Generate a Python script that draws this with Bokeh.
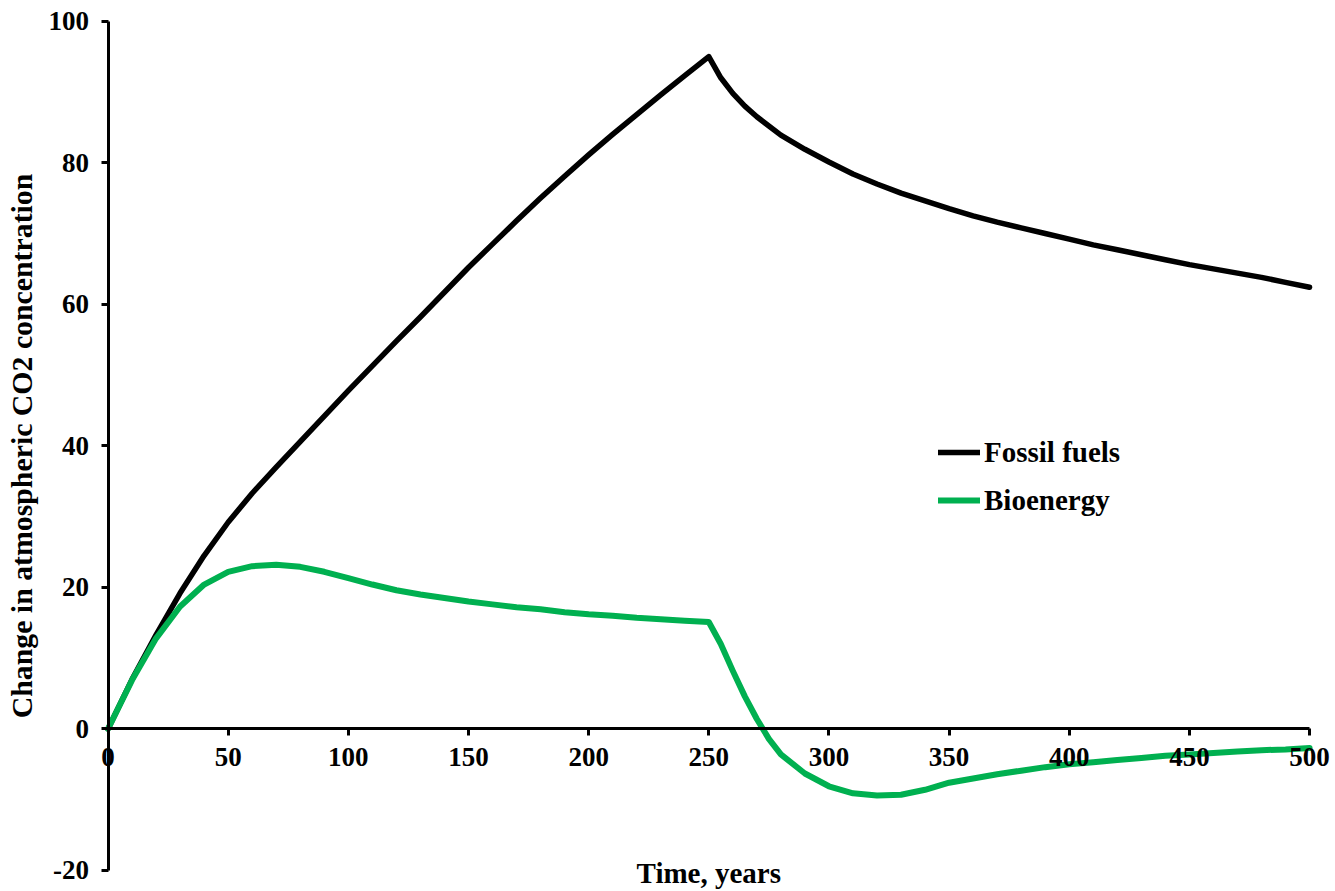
from bokeh.plotting import figure
from bokeh.models import Range1d, LinearAxis, FixedTicker, Legend, LegendItem, Label
from bokeh.embed import file_html
from bokeh.resources import INLINE

# ---- data ----
fossil_years = [0, 10, 20, 30, 40, 50, 60, 70, 80, 90, 100, 110, 120, 130, 140, 150,
                160, 170, 180, 190, 200, 210, 220, 230, 240, 250,
                255, 260, 265, 270, 280, 290, 300, 310, 320, 330, 340, 350, 360, 370,
                380, 390, 400, 410, 420, 430, 440, 450, 460, 470, 480, 490, 500]
fossil_co2 = [0.0, 7.0, 13.3, 19.2, 24.5, 29.2, 33.3, 37.0, 40.6, 44.2, 47.8, 51.3, 54.8,
              58.2, 61.7, 65.2, 68.5, 71.8, 75.0, 78.1, 81.1, 84.0, 86.8, 89.6, 92.3, 95.0,
              92.0, 89.8, 88.0, 86.5, 83.9, 81.9, 80.1, 78.4, 77.0, 75.7, 74.6, 73.5, 72.5,
              71.6, 70.8, 70.0, 69.2, 68.4, 67.7, 67.0, 66.3, 65.6, 65.0, 64.4, 63.8, 63.1,
              62.4]

bio_years = [0, 10, 20, 30, 40, 50, 60, 70, 80, 90, 100, 110, 120, 130, 140, 150,
             160, 170, 180, 190, 200, 210, 220, 230, 240, 250,
             255, 260, 265, 270, 275, 280, 290, 300, 310, 320, 330, 340, 350, 360,
             370, 380, 390, 400, 410, 420, 430, 440, 450, 460, 470, 480, 490, 500]
bio_co2 = [0.0, 6.9, 12.8, 17.3, 20.4, 22.2, 23.0, 23.2, 22.9, 22.2, 21.3, 20.4, 19.6,
           19.0, 18.5, 18.0, 17.6, 17.2, 16.9, 16.5, 16.2, 16.0, 15.7, 15.5, 15.3, 15.1,
           12.0, 8.2, 4.6, 1.4, -1.4, -3.6, -6.3, -8.1, -9.1, -9.4, -9.3, -8.6, -7.6,
           -7.0, -6.4, -5.9, -5.4, -5.0, -4.7, -4.4, -4.1, -3.8, -3.6, -3.4, -3.2,
           -3.0, -2.9, -2.7]

x_ticks = [0, 50, 100, 150, 200, 250, 300, 350, 400, 450, 500]
y_ticks = [-20, 0, 20, 40, 60, 80, 100]

series_names = ["Fossil fuels", "Bioenergy"]
series_colors = ["#000000", "#00B050"]
x_title = "Time, years"
y_title = "Change in atmospheric CO2 concentration"

FONT = "Liberation Serif"
W, H = 1335, 891

# the frame fills the whole canvas; the axes cross at the origin
p = figure(width=W, height=H,
           x_range=Range1d(-44.74, 510.8), y_range=Range1d(-22.97, 102.92),
           output_backend="svg", toolbar_location=None,
           x_axis_location=None, y_axis_location=None,
           min_border=0)
p.outline_line_color = None
p.grid.visible = False
p.background_fill_color = "white"
p.border_fill_color = "white"


def style_axis(ax):
    ax.major_label_text_font = FONT
    ax.major_label_text_font_style = "bold"
    ax.major_label_text_font_size = "27px"
    ax.major_label_text_color = "black"
    ax.axis_line_width = 3
    ax.axis_line_color = "black"
    ax.major_tick_line_width = 3
    ax.major_tick_line_color = "black"
    ax.major_tick_out = 7
    ax.major_tick_in = 0
    ax.minor_tick_line_color = None
    ax.major_label_standoff = 12


ya = LinearAxis(fixed_location=0, ticker=FixedTicker(ticks=y_ticks),
                bounds=(y_ticks[0], y_ticks[-1]))
style_axis(ya)
ya.major_label_overrides = {t: str(t) for t in y_ticks}
ya.axis_label = y_title
ya.axis_label_text_font = FONT
ya.axis_label_text_font_style = "bold"
ya.axis_label_text_font_size = "29.8px"
ya.axis_label_text_color = "black"
ya.axis_label_standoff = 8
p.add_layout(ya, "left")

xa = LinearAxis(fixed_location=0, ticker=FixedTicker(ticks=x_ticks),
                bounds=(x_ticks[0], x_ticks[-1]))
style_axis(xa)
p.add_layout(xa, "below")

p.add_layout(Label(x=(x_ticks[0] + x_ticks[-1]) / 2, y=19, x_units="data", y_units="screen",
                   text=x_title, text_align="center", text_baseline="middle",
                   text_font=FONT, text_font_style="bold", text_font_size="29px",
                   text_color="black"))

r1 = p.line(fossil_years, fossil_co2, line_color=series_colors[0], line_width=5.5,
            line_join="round", line_cap="round")
r2 = p.line(bio_years, bio_co2, line_color=series_colors[1], line_width=6,
            line_join="round", line_cap="round")

legend = Legend(items=[LegendItem(label=series_names[0], renderers=[r1]),
                       LegendItem(label=series_names[1], renderers=[r2])],
                location=(938, 371))
legend.border_line_color = None
legend.background_fill_alpha = 0
legend.padding = 0
legend.margin = 0
legend.spacing = 8
legend.glyph_width = 42
legend.glyph_height = 40
legend.label_height = 40
legend.label_standoff = 4
legend.label_text_font = FONT
legend.label_text_font_style = "bold"
legend.label_text_font_size = "29px"
legend.label_text_color = "black"
p.add_layout(legend, "center")

open("out.html", "w").write(file_html(p, INLINE))
